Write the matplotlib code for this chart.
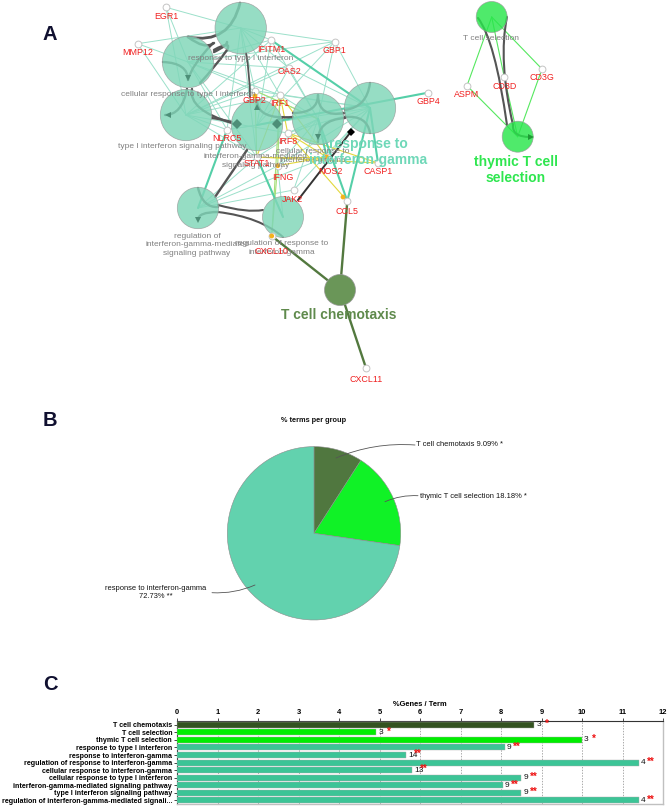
import matplotlib
matplotlib.use("Agg")
import matplotlib.pyplot as plt
from matplotlib.patches import Circle, PathPatch
from matplotlib.path import Path

plt.rcParams['font.family'] = ['Liberation Sans', 'DejaVu Sans']

# ---------- Panel A: network (pixel layout) ----------
term_nodes = {
    'R1': (240.7, 28, 25.7, '#7fd6b8'), 'R2': (188, 62, 25.7, '#7fd6b8'), 'R3': (186, 115, 25.7, '#7fd6b8'),
    'NG': (257, 125, 25.7, '#7fd6b8'), 'CG': (318, 119, 25.7, '#7fd6b8'), 'RG': (370, 108, 25.7, '#7fd6b8'),
    'RM': (198, 208, 20.7, '#7fd6b8'), 'RR': (283, 217, 20.5, '#7fd6b8'),
    'TC': (340, 290, 15.5, '#6a9658'), 'TS': (491.7, 17, 15.5, '#28e64b'), 'TH': (517.7, 136.7, 15.5, '#28e64b'),
}
gene_nodes = {
    'EGR1': (166, 7.3), 'MMP12': (137.7, 43.7), 'IFITM1': (271, 40), 'GBP1': (334.7, 41.7), 'OAS2': (289, 68),
    'GBP2': (255, 90.7), 'IRF1': (280, 95), 'GBP4': (428, 92.7), 'NLRC5': (227, 129.7), 'IRF8': (287.7, 133),
    'CASP1': (378, 163), 'STAT1': (256.7, 157), 'IFNG': (277.7, 165.7), 'NOS2': (326.7, 157), 'JAK2': (293.7, 190),
    'CCL5': (347.3, 201), 'CXCL10': (271.7, 236), 'CXCL11': (366, 368), 'ASPM': (467, 85.7), 'CD3D': (504.3, 77.3),
    'CD3G': (542, 69),
}
gene_label_offset = {
    'EGR1': (0, 9.5), 'MMP12': (0, 9), 'IFITM1': (0, 10), 'GBP1': (0, 9), 'OAS2': (0, 4), 'GBP2': (-1, 10),
    'IRF1': (0, 8), 'GBP4': (0, 9), 'NLRC5': (0, 9), 'IRF8': (0, 9), 'CASP1': (0, 8), 'STAT1': (0, 6),
    'IFNG': (5, 12), 'NOS2': (4, 14), 'JAK2': (-1, 9), 'CCL5': (0, 10), 'CXCL10': (0, 15), 'CXCL11': (0, 12),
    'ASPM': (0, 9), 'CD3D': (0, 9.5), 'CD3G': (0, 9),
}
thin_edges = [
    ('EGR1', 'R1'), ('EGR1', 'R2'), ('EGR1', 'R3'), ('MMP12', 'R1'), ('MMP12', 'R2'), ('MMP12', 'R3'),
    ('IFITM1', 'R2'), ('IFITM1', 'R3'), ('IFITM1', 'NG'), ('IFITM1', 'CG'), ('IFITM1', 'R1'),
    ('GBP1', 'R1'), ('GBP1', 'R2'), ('GBP1', 'CG'), ('GBP1', 'RG'), ('GBP1', 'NG'), ('GBP1', 'R3'),
    ('OAS2', 'R1'), ('OAS2', 'R2'), ('OAS2', 'R3'), ('OAS2', 'NG'), ('OAS2', 'CG'), ('OAS2', 'RG'),
    ('GBP2', 'R1'), ('GBP2', 'R2'), ('GBP2', 'R3'), ('GBP2', 'CG'), ('GBP2', 'RG'),
    ('IRF1', 'R1'), ('IRF1', 'R2'), ('IRF1', 'R3'), ('IRF1', 'RG'), ('IRF1', 'CG'),
    ('NLRC5', 'R1'), ('NLRC5', 'R2'), ('NLRC5', 'R3'), ('NLRC5', 'NG'), ('NLRC5', 'RG'),
    ('IRF8', 'R3'), ('IRF8', 'CG'), ('IRF8', 'RG'), ('STAT1', 'R1'), ('STAT1', 'R2'), ('STAT1', 'R3'),
    ('STAT1', 'RM'), ('STAT1', 'CG'), ('IFNG', 'RM'), ('IFNG', 'RR'), ('IFNG', 'CG'), ('IFNG', 'RG'),
    ('JAK2', 'RM'), ('JAK2', 'CG'), ('JAK2', 'RG'), ('NOS2', 'RM'), ('NOS2', 'RG'),
]
thick_edges = [
    ('IFITM1', 'RG'), ('GBP4', 'NG'), ('CASP1', 'RG'), ('CCL5', 'RG'), ('NLRC5', 'RM'), ('STAT1', 'RR'),
    ('NOS2', 'CG'), ('CCL5', 'CG'),
]
yellow_edges = [
    ('IRF1', 'IRF8'), ('IRF8', 'CASP1'), ('IRF8', 'CCL5'), ('IRF8', 'NOS2'), ('STAT1', 'NOS2'), ('IRF1', 'NOS2'),
    ('STAT1', 'RR'), ('IFNG', 'NOS2'), ('IRF1', 'STAT1'), ('STAT1', 'CASP1'),
]
lime_edges = [('IRF1', 'IFNG'), ('IRF1', 'CXCL10'), ('GBP2', 'STAT1'), ('IFNG', 'CXCL10'), ('GBP2', 'CG')]
olive_edges = [('TC', 'CXCL10'), ('TC', 'CCL5'), ('TC', 'CXCL11')]
bright_edges = [('ASPM', 'TS'), ('ASPM', 'TH'), ('CD3D', 'TS'), ('CD3D', 'TH'), ('CD3G', 'TS'), ('CD3G', 'TH')]
orange_x = [255, 277.7, 326.7, 343, 271.7]
orange_y = [96, 165.7, 157, 197, 236]

# Term-to-term bundles, as quadratic curves (x0, y0, cx, cy, x1, y1) in pixels
term_curves = [
    (188, 37, 230, 45, 240, 3), (214, 50, 232, 40, 227, 50), (188, 37, 205, 50, 214, 43),
    (214, 52, 228, 45, 227, 42), (163, 62, 188, 63, 188, 80), (213, 43, 191, 66, 188, 80),
    (187, 89, 182, 115, 165, 115), (192, 89, 188, 110, 232, 123), (212, 118, 225, 120, 232, 122),
    (257, 100, 257, 120, 293, 117), (283, 117, 270, 123, 276, 124), (318, 95, 318, 118, 345, 113),
    (293, 113, 318, 113, 318, 95), (345, 118, 317, 120, 318, 142), (370, 83, 367, 107, 345, 110),
    (345, 117, 367, 115, 370, 133), (227, 50, 215, 67, 200, 83), (246, 53, 250, 75, 250, 97),
    (247, 150, 230, 175, 215, 197), (198, 188, 203, 208, 218, 207), (218, 212, 198, 212, 198, 220),
    (218, 205, 247, 213, 263, 210), (218, 212, 260, 217, 283, 237),
]
curve_width = [2.0, 1.8, 1.8, 1.8, 1.7, 1.7, 1.7, 1.7, 1.6, 1.7, 1.7, 1.7, 1.7, 1.7, 1.7, 1.7, 1.7, 1.3, 1.7, 1.7, 1.7, 1.5, 1.5]
black_line_x = [298, 350.7]
black_line_y = [200, 132]
arrow_x = [188, 168, 237, 257, 277, 318, 198]
arrow_y = [78, 115, 124, 107, 124, 137, 220]
arrow_marker = ['v', '<', 'D', '^', 'D', 'v', 'v']
ts_curves = [(478, 18, 495, 40, 507, 125), (507, 17, 498, 60, 513, 125), (513, 125, 512, 137, 530, 137)]

term_labels = [
    ('response to type I interferon', 241, 59), ('cellular response to type I interferon', 188, 94),
    ('type I interferon signaling pathway', 182, 146), ('interferon-gamma-mediated\nsignaling pathway', 256, 161),
    ('cellular response to\ninterferon-gamma', 313, 156), ('regulation of\ninterferon-gamma-mediated\nsignaling pathway', 197, 245),
    ('regulation of response to\ninterferon-gamma', 282, 248), ('T cell selection', 491, 38.5),
]
group_labels = [
    ('response to\ninterferon-gamma', 368, 152, '#6fd8b8'), ('thymic T cell\nselection', 516, 170, '#2ee64f'),
    ('T cell chemotaxis', 339, 315, '#5f8a4c'),
]
panel_letters = [('A', 50, 35), ('B', 50, 421), ('C', 50, 685)]

# ---------- Panel B: pie ----------
pie_values = [9.09, 18.18, 72.73]
pie_colors = ['#50773f', '#10f226', '#62d2ae']
pie_title = '% terms per group'
pie_labels = [('T cell chemotaxis 9.09% *', 416, 445, 'left'), ('thymic T cell selection 18.18% *', 420, 496, 'left'),
              ('response to interferon-gamma\n72.73% **', 156, 593, 'center')]
leaders = [(336, 458, 415, 445, -0.12), (385, 501.7, 418, 495.7, -0.12), (255, 585, 212, 592.7, -0.12)]

# ---------- Panel C: bars ----------
bar_names = ['T cell chemotaxis', 'T cell selection', 'thymic T cell selection', 'response to type I interferon',
             'response to interferon-gamma', 'regulation of response to interferon-gamma',
             'cellular response to interferon-gamma', 'cellular response to type I interferon',
             'interferon-gamma-mediated signaling pathway', 'type I interferon signaling pathway',
             'regulation of interferon-gamma-mediated signali...']
bar_values = [8.82, 4.92, 10.0, 8.1, 5.65, 11.4, 5.8, 8.5, 8.05, 8.5, 11.4]
bar_counts = [3, 3, 3, 9, 14, 4, 13, 9, 9, 9, 4]
bar_stars = ['*', '*', '*', '**', '**', '**', '**', '**', '**', '**', '**']
bar_colors = ['#335220', '#00ee00', '#00ee00'] + ['#3cc496'] * 8

W, H = 669, 807
fig = plt.figure(figsize=(W / 100, H / 100), dpi=100)
ov = fig.add_axes([0, 0, 1, 1])
ov.set_xlim(0, W)
ov.set_ylim(H, 0)
ov.axis('off')


def pos(name):
    return gene_nodes[name] if name in gene_nodes else term_nodes[name][:2]


def draw_edges(edges, color, lw, z, alpha=1.0):
    for a, b in edges:
        (x0, y0), (x1, y1) = pos(a), pos(b)
        ov.plot([x0, x1], [y0, y1], color=color, lw=lw, zorder=z, alpha=alpha, solid_capstyle='round')


def draw_curve(c, color, lw, z, alpha=1.0):
    p = Path([(c[0], c[1]), (c[2], c[3]), (c[4], c[5])], [Path.MOVETO, Path.CURVE3, Path.CURVE3])
    ov.add_patch(PathPatch(p, fc='none', ec=color, lw=lw, zorder=z, alpha=alpha, capstyle='round'))


draw_edges(thin_edges, '#9be0ca', 0.7, 1)
draw_edges(bright_edges, '#55e85f', 0.8, 1)
draw_edges(lime_edges, '#a6de77', 0.8, 1.1)
draw_edges(yellow_edges, '#e3d83c', 0.8, 1.2)
draw_edges(thick_edges, '#55cfa8', 1.5, 1.3)
draw_edges(olive_edges, '#53793f', 1.7, 1.3)
for c, lw in zip(term_curves, curve_width):
    draw_curve(c, '#555555', lw, 2)
for c in ts_curves:
    draw_curve(c, '#555555', 1.5, 2)
ov.plot(black_line_x, black_line_y, color='#333333', lw=1.4, zorder=2)

for name, (x, y, r, col) in term_nodes.items():
    ov.add_patch(Circle((x, y), r, fc=col, ec='#999999', lw=0.5, alpha=0.82 if name != 'TC' else 1, zorder=3))
for x, y, m in zip(arrow_x, arrow_y, arrow_marker):
    ov.plot([x], [y], marker=m, ms=5, color='#4d8f78', mew=0, zorder=4)
ov.plot(black_line_x[1:], black_line_y[1:], marker='D', ms=4.5, color='black', mew=0, zorder=5)
ov.plot([531], [137], marker='>', ms=5, color='#1f9a35', mew=0, zorder=4)

gx = [v[0] for v in gene_nodes.values()]
gy = [v[1] for v in gene_nodes.values()]
ov.scatter(gx, gy, s=24, fc='white', ec='#c4c4c4', lw=0.7, zorder=5)
ov.scatter(orange_x, orange_y, s=12, fc='#f3b21d', ec='none', zorder=5.5)

for t, x, y in term_labels:
    ov.text(x, y, t, ha='center', va='center', fontsize=6.0, color='#808080', zorder=6, linespacing=1.25)
for g, (x, y) in gene_nodes.items():
    dx, dy = gene_label_offset[g]
    ov.text(x + dx, y + dy, g, ha='center', va='center', fontsize=6.4, color='#f02020', zorder=7)
for t, x, y, c in group_labels:
    ov.text(x, y, t, ha='center', va='center', fontsize=10, fontweight='bold', color=c, zorder=6.5, linespacing=1.1)
for t, x, y in panel_letters:
    ov.text(x, y, t, ha='center', va='center', fontsize=14.5, fontweight='bold', color='#101030')

# Pie
cx, cy, r = 314, 533.3, 86.7
pax = fig.add_axes([(cx - r) / W, 1 - (cy + r) / H, 2 * r / W, 2 * r / H])
pax.pie(pie_values, colors=pie_colors, startangle=90, counterclock=False, radius=1,
        wedgeprops=dict(ec='#8a8a8a', lw=0.4))
pax.set_xlim(-1, 1)
pax.set_ylim(-1, 1)
pax.patch.set_alpha(0)
for p in pax.patches:
    p.set_clip_on(False)
ov.set_zorder(1)
pax.set_zorder(0)
ov.text(cx, 421, pie_title, ha='center', va='center', fontsize=5.3, fontweight='bold', color='#111111')
for t, x, y, ha in pie_labels:
    ov.text(x, y, t, ha=ha, va='center', fontsize=5.4, color='#111111', linespacing=1.2)
for x0, y0, x1, y1, rad in leaders:
    ov.annotate('', xy=(x1, y1), xytext=(x0, y0), zorder=8,
                arrowprops=dict(arrowstyle='-', color='#555555', lw=0.6,
                                connectionstyle=f'arc3,rad={rad}', shrinkA=0, shrinkB=0))

# Bars
bax = fig.add_axes([177 / W, 1 - 804 / H, (663 - 177) / W, (804 - 721) / H])
bax.set_zorder(2)
ypos = list(range(len(bar_names)))
bax.barh(ypos, bar_values, height=0.8, color=bar_colors, ec='#aaaaaa', lw=0.3, zorder=3)
bax.set_xlim(0, 12)
bax.set_ylim(10.47, -0.49)
bax.set_yticks(ypos)
bax.set_yticklabels(bar_names, fontsize=5.1, fontweight='bold')
bax.set_xticks(range(13))
bax.xaxis.tick_top()
bax.xaxis.set_label_position('top')
bax.tick_params(axis='x', labelsize=5.4, length=2, width=0.5, pad=1.5)
bax.tick_params(axis='y', length=2, width=0.5, pad=1.5)
for lab in bax.get_xticklabels():
    lab.set_fontweight('bold')
bax.set_xlabel('%Genes / Term', fontsize=5.4, fontweight='bold', labelpad=2.5)
bax.grid(axis='x', ls=(0, (2, 2)), color='#888888', lw=0.5, zorder=0)
bax.spines['top'].set_color('#333333')
bax.spines['left'].set_color('#333333')
for s in ('right', 'bottom'):
    bax.spines[s].set_color('#c0c0c0')
    bax.spines[s].set_linewidth(1.0)
for y, v, n, st in zip(ypos, bar_values, bar_counts, bar_stars):
    bax.text(v + 0.05, y, str(n), ha='left', va='center', fontsize=6, color='#111111', zorder=5)
    bax.text(v + 0.3, y - 0.12, st, ha='center', va='center', fontsize=7, fontweight='bold', color='#ee1111', zorder=5)

fig.savefig('out.png', dpi=100)
